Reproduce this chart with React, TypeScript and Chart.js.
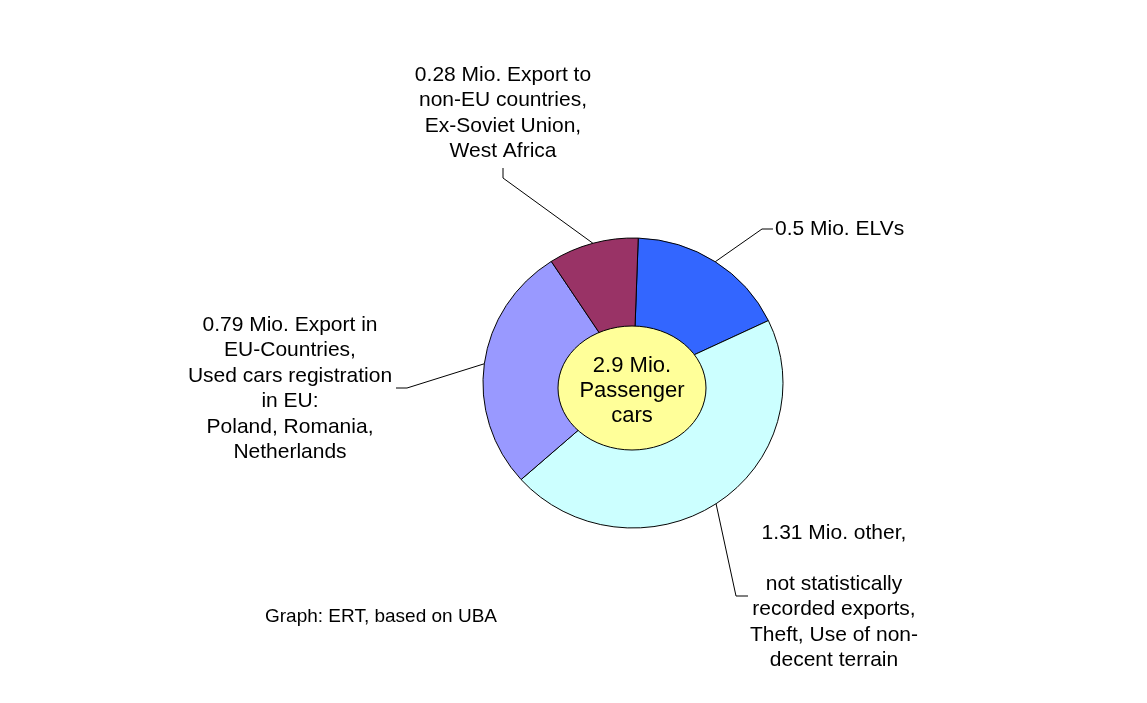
import React, { useEffect, useRef } from "react";
import { Chart, registerables } from "chart.js";

Chart.register(...registerables);

const categories = ["ELVs", "other", "Export in EU-Countries", "Export to non-EU countries"];
const values = [0.5, 1.31, 0.79, 0.28];
const sliceColors = ["#3366FF", "#CCFFFF", "#9999FF", "#993366"];
const labelTexts: string[][] = [
  ["0.5 Mio. ELVs"],
  ["1.31 Mio. other,", "", "not statistically", "recorded exports,", "Theft, Use of non-", "decent terrain"],
  ["0.79 Mio. Export in", "EU-Countries,", "Used cars registration", "in EU:", "Poland, Romania,", "Netherlands"],
  ["0.28 Mio. Export to", "non-EU countries,", "Ex-Soviet Union,", "West Africa"],
];
const centerTexts = ["2.9 Mio.", "Passenger", "cars"];
const sourceText = "Graph: ERT, based on UBA";

// layout (positions of annotation text and leader-line elbows)
const FONT = "21px 'Liberation Sans', Arial, sans-serif";
const LINE_H = 25.5;
const Y_SCALE = 145 / 150;
const labelLayout = [
  { x: 775, y: 229, align: "left", elbow: [762, 229], end: [773, 229] },
  { x: 834, y: 533, align: "center", elbow: [736, 596], end: [748, 596] },
  { x: 290, y: 325, align: "center", elbow: [407, 388], end: [396, 388] },
  { x: 503, y: 75, align: "center", elbow: [503, 178], end: [503, 168] },
];

const piePlugin = {
  id: "piePlugin",
  beforeDatasetsDraw(chart: any) {
    const arc = chart.getDatasetMeta(0).data[0];
    const ctx = chart.ctx;
    ctx.save();
    ctx.translate(arc.x, arc.y);
    ctx.scale(1, Y_SCALE);
    ctx.translate(-arc.x, -arc.y);
  },
  afterDatasetsDraw(chart: any) {
    const ctx = chart.ctx;
    ctx.restore();
    const meta = chart.getDatasetMeta(0);
    const a0 = meta.data[0];
    const cx = a0.x;
    const cy = a0.y;
    // centre ellipse
    ctx.save();
    ctx.beginPath();
    ctx.ellipse(cx - 1, cy + 5, 74, 62, 0, 0, Math.PI * 2);
    ctx.fillStyle = "#FFFF99";
    ctx.fill();
    ctx.lineWidth = 1;
    ctx.strokeStyle = "#000";
    ctx.stroke();
    ctx.fillStyle = "#000";
    ctx.font = "22px 'Liberation Sans', Arial, sans-serif";
    ctx.textAlign = "center";
    ctx.textBaseline = "middle";
    centerTexts.forEach((t, i) => ctx.fillText(t, cx - 1, cy - 17 + i * 25));
    ctx.restore();

    // labels + leader lines
    ctx.save();
    ctx.strokeStyle = "#000";
    ctx.lineWidth = 1;
    ctx.fillStyle = "#000";
    ctx.font = FONT;
    ctx.textBaseline = "middle";
    meta.data.forEach((arc: any, i: number) => {
      const p = arc.getProps(["x", "y", "startAngle", "endAngle", "outerRadius"], true);
      const mid = (p.startAngle + p.endAngle) / 2;
      const ax = p.x + Math.cos(mid) * p.outerRadius;
      const ay = p.y + Math.sin(mid) * p.outerRadius * Y_SCALE;
      const L = labelLayout[i];
      ctx.beginPath();
      ctx.moveTo(ax, ay);
      ctx.lineTo(L.elbow[0], L.elbow[1]);
      ctx.lineTo(L.end[0], L.end[1]);
      ctx.stroke();
      ctx.textAlign = L.align;
      labelTexts[i].forEach((t, j) => ctx.fillText(t, L.x, L.y + j * LINE_H));
    });
    ctx.font = "19px 'Liberation Sans', Arial, sans-serif";
    ctx.textAlign = "left";
    ctx.fillText(sourceText, 265, 617);
    ctx.restore();
  },
};

export default function App() {
  const ref = useRef<HTMLCanvasElement>(null);
  useEffect(() => {
    const chart = new Chart(ref.current!, {
      type: "pie",
      data: {
        labels: categories,
        datasets: [
          {
            data: values,
            backgroundColor: sliceColors,
            borderColor: "#000",
            borderWidth: 1,
          },
        ],
      },
      options: {
        responsive: false,
        animation: false,
        rotation: 2,
        layout: { padding: { left: 482.5, right: 363.5, top: 232.5, bottom: 169.5 } },
        plugins: { legend: { display: false }, tooltip: { enabled: false } },
      },
      plugins: [piePlugin],
    });
    return () => chart.destroy();
  }, []);
  return (
    <div style={{ position: "absolute", left: 0, top: 0, width: 1147, height: 703, background: "#fff" }}>
      <canvas ref={ref} width={1147} height={703} />
    </div>
  );
}
